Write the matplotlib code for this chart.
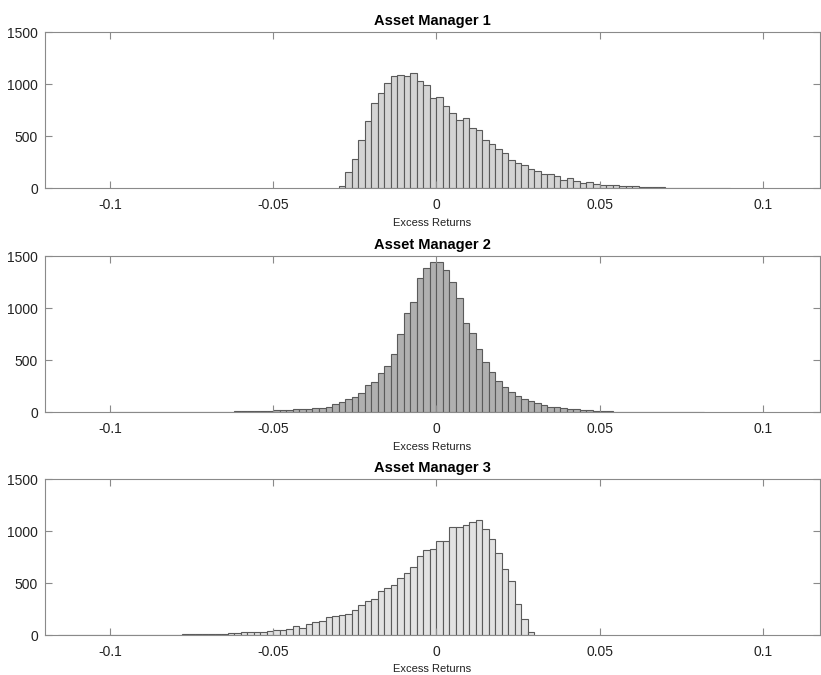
import numpy as np
import matplotlib.pyplot as plt

plt.rcParams['font.family'] = ['Liberation Sans', 'DejaVu Sans']

bin_width = 0.002

# Asset Manager 1: counts starting at bin edge -0.030
m1_start = -0.030
m1_counts = [20, 157, 279, 465, 648, 824, 920, 1016, 1080, 1085, 1080, 1106, 1032, 990,
             865, 878, 791, 721, 657, 680, 583, 561, 465, 423, 375, 336, 272, 240, 221,
             183, 167, 141, 135, 119, 80, 99, 74, 55, 61, 38, 32, 30, 28, 25, 22, 18, 15,
             12, 10, 8, 6, 5, 4, 3, 2, 2, 1, 1, 1, 1]

# Asset Manager 2: counts starting at bin edge -0.100
m2_start = -0.100
m2_counts = [1, 1, 1, 1, 1, 2, 2, 2, 2, 3, 3, 3, 4, 4, 5, 5, 6, 7, 8, 10, 12, 10, 14, 16,
             18, 24, 26, 28, 30, 34, 36, 40, 46, 56, 79, 104, 130, 152, 185, 264, 296, 377,
             450, 560, 752, 960, 1065, 1296, 1392, 1444,
             1450, 1370, 1252, 1104, 858, 762, 611, 483, 387, 303, 248, 200, 159, 130, 111,
             92, 70, 56, 50, 40, 34, 30, 24, 20, 16, 14, 12, 8, 7, 6, 5, 4, 4, 3, 3, 2, 2,
             2, 1, 1, 1]

# Asset Manager 3: counts starting at bin edge -0.116
m3_start = -0.116
m3_counts = [1, 1, 1, 1, 1, 1, 1, 1, 1, 1, 1, 2, 2, 2, 3, 3, 4, 5, 6, 7, 8, 9, 10, 12, 13,
             15, 18, 22, 27, 30, 32, 35, 37, 46,
             53, 62, 85, 69, 108, 123, 133, 171, 181, 197, 204, 245, 293, 325, 351, 428,
             450, 486, 550, 598, 652, 764, 822, 829,
             902, 902, 1037, 1040, 1063, 1088, 1104, 1021, 928, 790, 640, 524, 303, 155, 30]

managers = ['Asset Manager 1', 'Asset Manager 2', 'Asset Manager 3']
starts = [m1_start, m2_start, m3_start]
counts = [m1_counts, m2_counts, m3_counts]
colors = ['#d4d4d4', '#b0b0b0', '#e2e2e2']

fig = plt.figure(figsize=(8.21, 6.75), dpi=100)
bottoms = [0.721, 0.389, 0.059]
axes_color = '#8a8a8a'

for title, start, cnt, col, b in zip(managers, starts, counts, colors, bottoms):
    ax = fig.add_axes([0.0548, b, 0.944, 0.2311])
    lefts = start + bin_width * np.arange(len(cnt))
    ax.bar(lefts, cnt, width=bin_width, align='edge', color=col,
           edgecolor='#5a5a5a', linewidth=0.8)
    ax.set_xlim(-0.12, 0.1176)
    ax.set_ylim(0, 1500)
    ax.set_yticks([0, 500, 1000, 1500])
    ax.set_xticks([-0.1, -0.05, 0, 0.05, 0.1])
    ax.set_xticklabels(['-0.1', '-0.05', '0', '0.05', '0.1'])
    ax.tick_params(direction='in', top=True, right=True, length=5, width=0.8,
                   color=axes_color, labelsize=10, labelcolor='#222222', pad=5)
    ax.tick_params(axis='x', pad=7)
    for s in ax.spines.values():
        s.set_color(axes_color)
        s.set_linewidth(0.8)
    ax.set_title(title, fontsize=10.5, fontweight='bold', pad=5)
    ax.set_xlabel('Excess Returns', fontsize=8, labelpad=4, color='#222222')

fig.savefig('out.png', dpi=100)
